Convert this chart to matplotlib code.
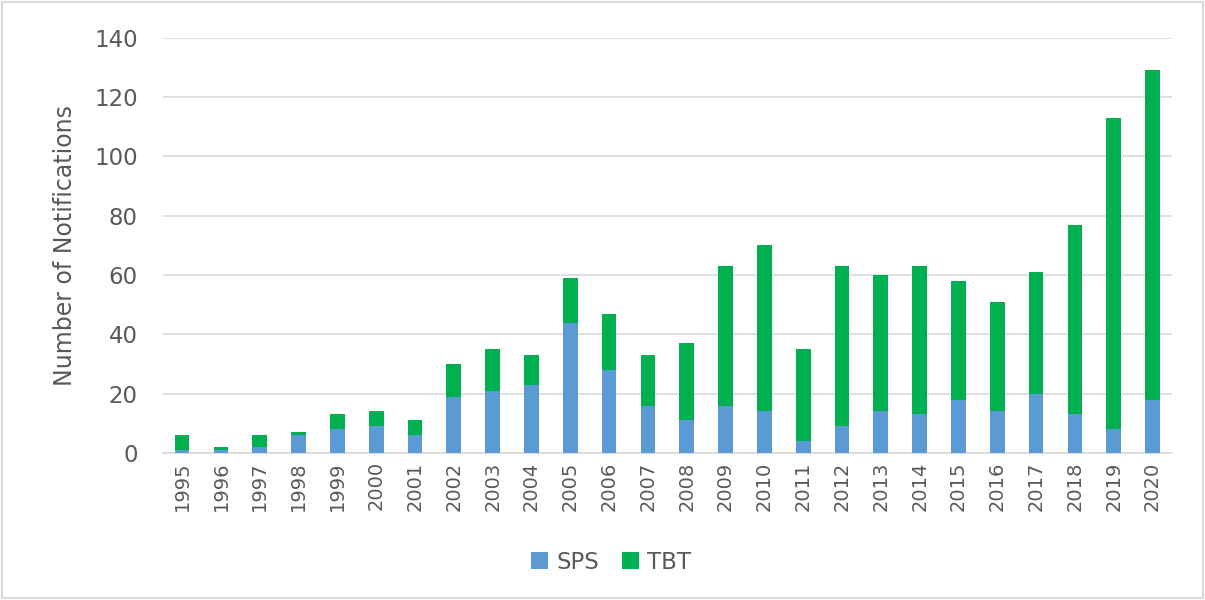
import matplotlib
matplotlib.use("Agg")
import matplotlib.pyplot as plt
from matplotlib.patches import Rectangle

years = [str(y) for y in range(1995, 2021)]
sps = [1, 1, 2, 6, 8, 9, 6, 19, 21, 23, 44, 28, 16, 11, 16, 14, 4, 9, 14, 13, 18, 14, 20, 13, 8, 18]
tbt = [5, 1, 4, 1, 5, 5, 5, 11, 14, 10, 15, 19, 17, 26, 47, 56, 31, 54, 46, 50, 40, 37, 41, 64, 105, 111]

text_color = '#595959'
plt.rcParams['font.family'] = ['DejaVu Sans']

fig = plt.figure(figsize=(12.05, 6.0), dpi=100)
ax = fig.add_axes([0.135, 0.245, 0.8376, 0.692])

x = range(len(years))
ax.bar(x, sps, width=0.38, color='#5B9BD5', label='SPS', zorder=3)
ax.bar(x, tbt, width=0.38, bottom=sps, color='#00B050', label='TBT', zorder=3)

ax.set_xlim(-0.5, len(years) - 0.5)
ax.set_ylim(0, 140)
ax.set_yticks(range(0, 141, 20))
ax.set_xticks(list(x))
ax.set_xticklabels(years, rotation=90)
ax.grid(axis='y', color='#D9D9D9', linewidth=1.2, zorder=0)
for s in ['top', 'right', 'left']:
    ax.spines[s].set_visible(False)
ax.spines['bottom'].set_color('#D9D9D9')
ax.spines['bottom'].set_linewidth(1.2)
ax.tick_params(axis='both', length=0, colors=text_color)
ax.tick_params(axis='y', labelsize=16.5, pad=18)
ax.tick_params(axis='x', labelsize=14, pad=6)
ax.set_ylabel('Number of Notifications', fontsize=17, color=text_color, labelpad=12)

fig.legend(loc='center', bbox_to_anchor=(0.507, 0.063), ncol=2, frameon=False,
           fontsize=16.5, labelcolor=text_color, handlelength=0.75, handleheight=0.75,
           handletextpad=0.35, columnspacing=1.0)

fig.patches.append(Rectangle((0.002, 0.003), 0.996, 0.994, transform=fig.transFigure,
                             fill=False, edgecolor='#D9D9D9', linewidth=1.5))

fig.savefig('out.png', dpi=100)
